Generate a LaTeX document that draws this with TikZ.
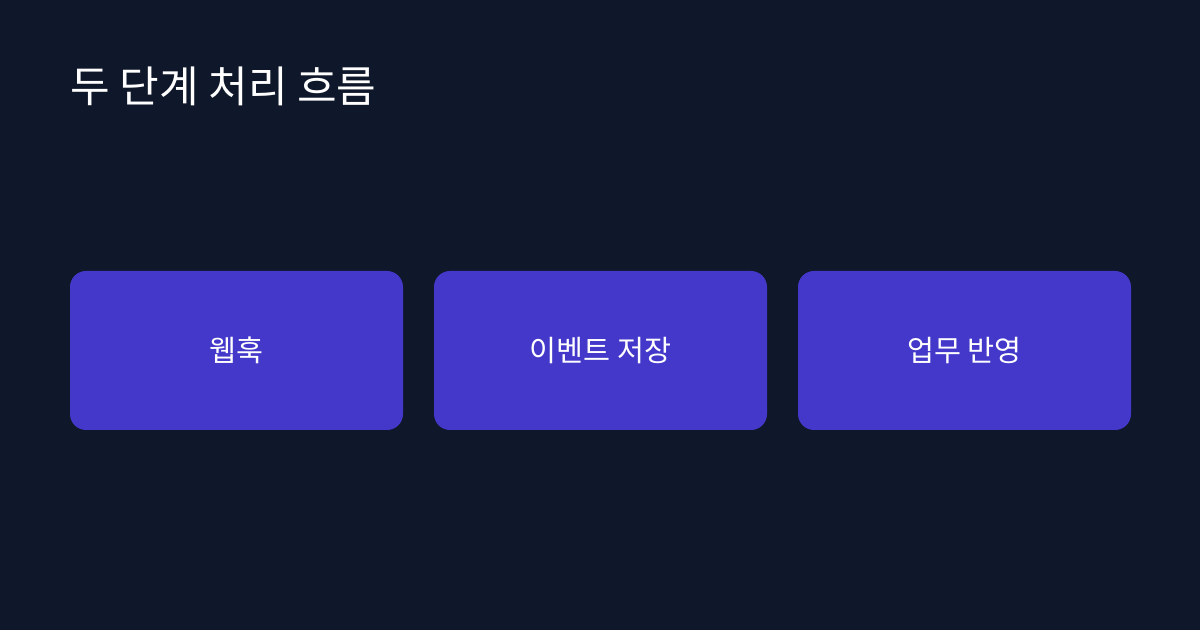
\documentclass[tikz,border=0pt]{standalone}
\usepackage{fontspec}
\newfontfamily\kr{Noto Sans CJK KR}
\definecolor{bgnavy}{HTML}{0F172A}
\definecolor{boxindigo}{HTML}{4338CA}
\begin{document}
\begin{tikzpicture}[x=0.75pt,y=-0.75pt, line join=round, line cap=round,
	stage/.style={draw=none, fill=boxindigo, rounded corners=12pt, minimum width=249.75pt, minimum height=119.25pt, inner sep=0pt, text=white, font=\kr\fontsize{22}{26}\selectfont}]
	\def\w{1200} \def\h{630} % Kích thước
	\fill[bgnavy] (0,0) rectangle (\w,\h);
	\useasboundingbox (0,0) rectangle (\w,\h);
	\node[anchor=base west, inner sep=0pt, text=white, font=\kr\fontsize{32.3}{38}\selectfont] (title) at (70,102.5) {두 단계 처리 흐름};
	\node[stage] (hook) at (236.5,350.5) {웹훅};
	\node[stage] (store) at (600.5,350.5) {이벤트 저장};
	\node[stage] (apply) at (964.5,350.5) {업무 반영};
\end{tikzpicture}
\end{document}
